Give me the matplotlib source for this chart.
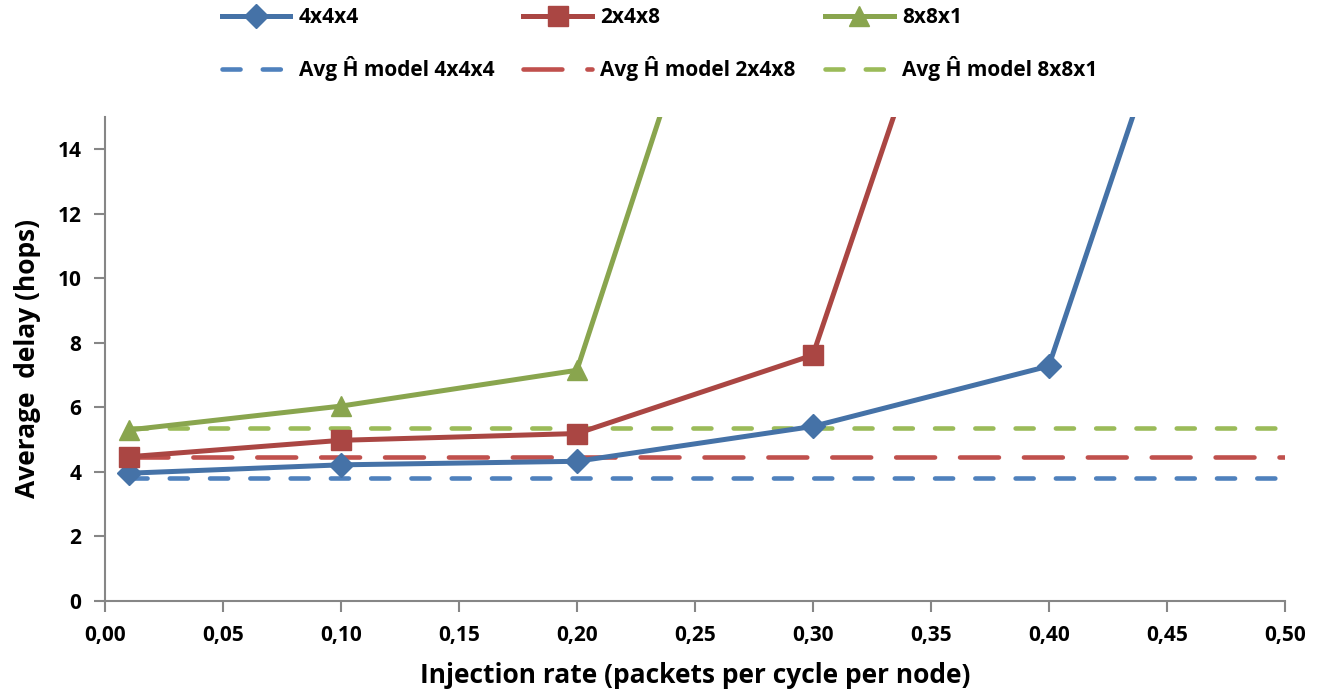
import numpy as np
import matplotlib
matplotlib.use('Agg')
import matplotlib.pyplot as plt

# Data
rate_444 = [0.01, 0.10, 0.20, 0.30, 0.40, 0.50]
delay_444 = [3.96, 4.22, 4.33, 5.41, 7.28, 29.0]

rate_248 = [0.01, 0.10, 0.20, 0.30, 0.40]
delay_248 = [4.47, 4.98, 5.19, 7.62, 29.2]

rate_881 = [0.01, 0.10, 0.20, 0.30]
delay_881 = [5.30, 6.04, 7.15, 29.5]

model_x = [0.01, 0.50]
model_444 = [3.80, 3.80]
model_248 = [4.45, 4.45]
model_881 = [5.35, 5.35]

xticks = np.arange(0, 0.501, 0.05)
yticks = [0, 2, 4, 6, 8, 10, 12, 14]

plt.rcParams['font.family'] = ['Open Sans', 'DejaVu Sans']
plt.rcParams['font.weight'] = 'bold'
plt.rcParams['lines.scale_dashes'] = False

fig = plt.figure(figsize=(13.19, 6.97), dpi=100)
ax = fig.add_axes([0.0796, 0.1377, 0.8944, 0.6945])

blue, red, green = '#4572A7', '#AA4643', '#89A54E'
lblue, lred, lgreen = '#4F81BD', '#C0504D', '#9BBB59'

lw = 3.6
dlw = 3.3
l1, = ax.plot(rate_444, delay_444, color=blue, lw=lw, marker='D', ms=12,
              label='4x4x4', zorder=5)
l2, = ax.plot(rate_248, delay_248, color=red, lw=lw, marker='s', ms=14,
              label='2x4x8', zorder=5)
l3, = ax.plot(rate_881, delay_881, color=green, lw=lw, marker='^', ms=15,
              label='8x8x1', zorder=5)
m1, = ax.plot(model_x, model_444, color=lblue, lw=dlw, ls=(0, (13, 16)),
              dash_capstyle='round', label='Avg Ĥ model 4x4x4', zorder=4)
m2, = ax.plot(model_x, model_248, color=lred, lw=dlw, ls=(0, (28, 18)),
              dash_capstyle='round', label='Avg Ĥ model 2x4x8', zorder=4)
m3, = ax.plot(model_x, model_881, color=lgreen, lw=dlw, ls=(0, (13, 16)),
              dash_capstyle='round', label='Avg Ĥ model 8x8x1', zorder=4)

ax.set_xlim(0, 0.5)
ax.set_ylim(0, 15)
ax.set_xticks(xticks)
ax.set_xticklabels([f'{v:.2f}'.replace('.', ',') for v in xticks])
ax.set_yticks(yticks)

for s in ['top', 'right']:
    ax.spines[s].set_visible(False)
for s in ['left', 'bottom']:
    ax.spines[s].set_color('#868686')
    ax.spines[s].set_linewidth(1.5)
ax.tick_params(axis='both', colors='#868686', length=8, width=1.5,
               labelcolor='black', labelsize=15, pad=9)
for lab in ax.get_xticklabels() + ax.get_yticklabels():
    lab.set_fontweight('bold')

ax.set_xlabel('Injection rate (packets per cycle per node)', fontsize=19,
              fontweight='bold', labelpad=12)
ax.set_ylabel('Average  delay (hops)', fontsize=19, fontweight='bold',
              labelpad=12)

fig.legend(handles=[l1, m1, l2, m2, l3, m3], ncol=3, loc='upper center',
           bbox_to_anchor=(0.5, 1.017), frameon=False,
           handlelength=3.3, columnspacing=1.4, labelspacing=1.35,
           handletextpad=0.4, prop={'weight': 'bold', 'size': 15})

fig.savefig('out.png', dpi=100)
